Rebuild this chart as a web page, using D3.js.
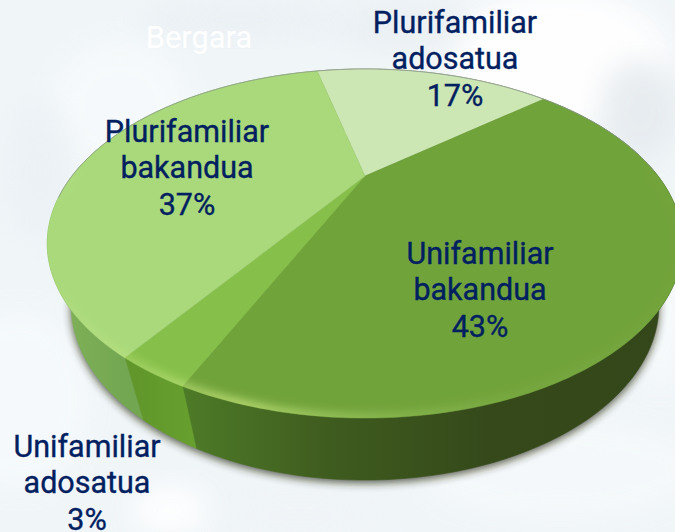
<!DOCTYPE html>
<html><head><meta charset="utf-8">
<script src="https://cdn.jsdelivr.net/npm/d3@7"></script>
<style>html,body{margin:0;padding:0;background:#f1f6f9;overflow:hidden}svg{display:block}</style>
</head><body><div id="c"></div>
<script>
const categories = ["Plurifamiliar adosatua","Unifamiliar bakandua","Unifamiliar adosatua","Plurifamiliar bakandua"];
const labelLines = [["Plurifamiliar","adosatua"],["Unifamiliar","bakandua"],["Unifamiliar","adosatua"],["Plurifamiliar","bakandua"]];
const values = [17.4,42.8,2.8,37.0];
const topColors = ["#cce6b4","#71a33b","#86c04a","#a9d97b"];
const labelAnchors = [[455,33],[480,264],[87,457],[187,142]];
const title = "Bergara";

const W=675,H=532;
const svg=d3.select("#c").append("svg").attr("width",W).attr("height",H);
const defs=svg.append("defs");
[["b30",30],["b14",14],["sh",4],["rim",5]].forEach(([id,s])=>{
  defs.append("filter").attr("id",id).attr("x","-30%").attr("y","-30%").attr("width","160%").attr("height","160%")
    .append("feGaussianBlur").attr("stdDeviation",s);
});

// background: pale map-like blotches
const bg=svg.append("g");
bg.append("rect").attr("width",W).attr("height",H).attr("fill","#f0f5f8");
const blobs=[[560,60,110,70,"#ffffff",.95],[640,110,40,50,"#e6ebef",.9],[400,25,70,22,"#e9eef2",.8],
 [120,110,70,70,"#f8fbfc",.8],[40,170,35,70,"#eaf0f4",.7],[20,400,70,90,"#f6fafc",.9],[560,470,140,50,"#f6f9fb",.9],
 [170,510,40,25,"#ffffff",.9],[300,515,90,18,"#f0f4f7",.8],[240,20,100,18,"#e9eff3",.8],[660,300,30,90,"#f7fafc",.9]];
bg.selectAll("ellipse").data(blobs).join("ellipse")
 .attr("cx",d=>d[0]).attr("cy",d=>d[1]).attr("rx",d=>d[2]).attr("ry",d=>d[3])
 .attr("fill",d=>d[4]).attr("opacity",d=>d[5]).attr("filter","url(#b14)");

// perspective of the disc: unit circle -> top / bottom faces
const persp=-0.387;
const topFace={x0:365,y0:176,dx:293,dy:148.4};
const botFace={x0:365,y0:237.3,dx:271,dy:148.8};
const project=(f,a)=>{const u=Math.sin(a),v=-Math.cos(a),w=1+persp*v;return [f.x0+f.dx*u/w,f.y0+f.dy*v/w];};
const rad=d=>d*Math.PI/180;
const line=d3.line();
const arcPts=(f,a0,a1)=>{const n=Math.max(4,Math.ceil(Math.abs(a1-a0)/rad(1)));return d3.range(n+1).map(i=>project(f,a0+(a1-a0)*i/n));};

const start=rad(-13);
const pie=d3.pie().sort(null).startAngle(start).endAngle(start+2*Math.PI)(values);
const full=arcPts(topFace,0,2*Math.PI), fullBot=arcPts(botFace,0,2*Math.PI);

// cast shadow
svg.append("path").attr("d",line(fullBot)+"Z").attr("fill","#20260f").attr("opacity",.75)
  .attr("transform","translate(0,3)").attr("filter","url(#sh)");

// walls
const g=(id,stops)=>{const l=defs.append("linearGradient").attr("id",id).attr("gradientUnits","userSpaceOnUse")
  .attr("x1",40).attr("x2",680).attr("y1",0).attr("y2",0);
  stops.forEach(([o,c])=>l.append("stop").attr("offset",o).attr("stop-color",c));};
g("w0",[[0,"#34481a"],[1,"#34481a"]]);
g("w1",[[0,"#4f7e28"],[.23,"#4d7a27"],[.45,"#3f5c1f"],[.7,"#35491a"],[1,"#34471a"]]);
g("w2",[[0,"#5d9228"],[.12,"#5f9429"],[.24,"#67a02f"],[1,"#67a02f"]]);
g("w3",[[0,"#86b65c"],[.06,"#7cae56"],[.14,"#72a650"],[1,"#72a650"]]);
svg.append("g").selectAll("path").data(pie).join("path")
  .attr("d",d=>line(arcPts(topFace,d.startAngle,d.endAngle).concat(arcPts(botFace,d.endAngle,d.startAngle)))+"Z")
  .attr("fill",(d,i)=>`url(#w${i})`).attr("stroke",(d,i)=>`url(#w${i})`).attr("stroke-width",.6);

// top face
const color=d3.scaleOrdinal().domain(categories).range(topColors);
svg.append("g").selectAll("path").data(pie).join("path")
  .attr("d",d=>line([[topFace.x0,topFace.y0]].concat(arcPts(topFace,d.startAngle,d.endAngle)))+"Z")
  .attr("fill",(d,i)=>color(categories[i])).attr("stroke",(d,i)=>color(categories[i])).attr("stroke-width",.5);

// bevel highlight along the front edge
defs.append("clipPath").attr("id","disc").append("path").attr("d",line(full)+"Z");
const rimG=defs.append("linearGradient").attr("id","rimG").attr("gradientUnits","userSpaceOnUse").attr("x1",50).attr("x2",680).attr("y1",0).attr("y2",0);
[[0,"#dff2a0",0],[.1,"#c8e884",.4],[.3,"#d6f288",.85],[.5,"#b8dc78",.5],[.75,"#a0c860",.2],[1,"#a0c860",.05]]
 .forEach(([o,c,a])=>rimG.append("stop").attr("offset",o).attr("stop-color",c).attr("stop-opacity",a));
svg.append("g").attr("clip-path","url(#disc)").append("path")
  .attr("d",line(arcPts(topFace,rad(88),rad(272))))
  .attr("fill","none").attr("stroke","url(#rimG)").attr("stroke-width",8).attr("filter","url(#rim)");
// thin grey outline on the far edge
svg.append("path").attr("d",line(arcPts(topFace,rad(-92),rad(88))))
  .attr("fill","none").attr("stroke","#8f9a90").attr("stroke-width",1).attr("opacity",.75);
svg.append("path").attr("d",line(arcPts(topFace,rad(262),rad(268))))
  .attr("fill","none").attr("stroke","#8f9a90").attr("stroke-width",1).attr("opacity",.75);

// labels
const font="'Roboto',sans-serif";
const labels=svg.append("g").attr("font-family",font).attr("font-size",30.5).attr("fill","#002060")
  .attr("stroke","#002060").attr("stroke-width",.35).attr("text-anchor","middle");
categories.forEach((c,i)=>{
  const t=labels.append("text").attr("data-cat",c);
  [...labelLines[i],Math.round(values[i])+"%"].forEach((s,j)=>{
    t.append("tspan").attr("x",labelAnchors[i][0]).attr("y",labelAnchors[i][1]+j*36.3).text(s);
  });
});
svg.append("text").attr("x",199).attr("y",48).attr("text-anchor","middle").attr("font-family",font)
  .attr("font-size",30.8).attr("fill","#ffffff").text(title);
</script></body></html>
